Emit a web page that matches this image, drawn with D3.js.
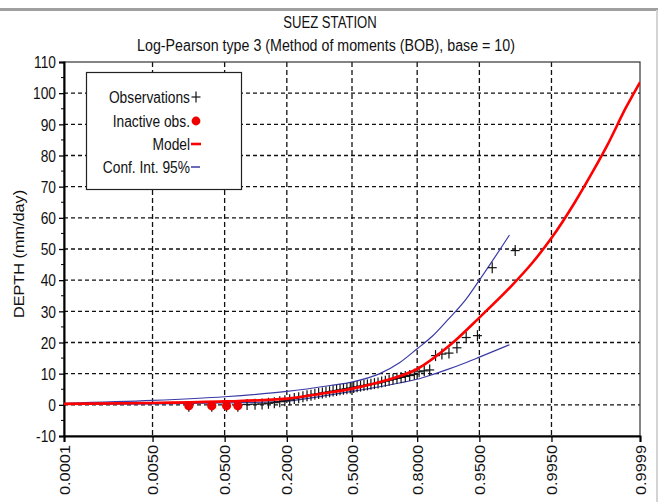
<!DOCTYPE html>
<html>
<head>
<meta charset="utf-8">
<script src="https://cdn.jsdelivr.net/npm/d3@7/dist/d3.min.js"></script>
<style>
  html, body { margin: 0; padding: 0; background: #fff; }
  svg { display: block; }
  text { font-family: "Liberation Sans", Arial, sans-serif; fill: #111; }
</style>
</head>
<body>
<svg id="chart" width="662" height="502"></svg>
<script>
// ---- data ---------------------------------------------------------------
const titleText = "SUEZ STATION";
const subtitleText = "Log-Pearson type 3 (Method of moments (BOB), base = 10)";
const yLabelText = "DEPTH (mm/day)";

const probTicks = [0.0001, 0.005, 0.05, 0.2, 0.5, 0.8, 0.95, 0.995, 0.9999];
const probTickLabels = ["0.0001", "0.0050", "0.0500", "0.2000", "0.5000", "0.8000", "0.9500", "0.9950", "0.9999"];
const depthTicks = [-10, 0, 10, 20, 30, 40, 50, 60, 70, 80, 90, 100, 110];

// zero-depth years flagged inactive (lowest ranks)
const inactiveObs = [0, 0, 0, 0];
// remaining annual maxima, ascending
const observations = [
  0.1, 0.2, 0.3, 0.5, 0.7, 1.0, 1.3, 1.6, 2.0, 2.3,
  2.6, 2.9, 3.1, 3.4, 3.6, 3.8, 4.0, 4.2, 4.4, 4.6,
  4.8, 5.0, 5.2, 5.4, 5.6, 5.8, 6.0, 6.2, 6.4, 6.6,
  6.8, 7.0, 7.3, 7.6, 7.9, 8.2, 8.5, 8.8, 9.1, 9.4,
  9.8, 10.6, 10.9, 11.2, 15.8, 16.3, 16.6, 18.3, 21.6, 22.2,
  44.0, 49.5
];

// fitted Log-Pearson III quantiles
const modelProb  = [0.0001, 0.005, 0.05, 0.2, 0.35, 0.5, 0.65, 0.8, 0.9, 0.95, 0.98, 0.99, 0.995, 0.998, 0.999, 0.9995, 0.9998, 0.9999];
const modelDepth = [0.3, 0.6, 1.1, 2.0, 3.6, 5.2, 7.5, 11.5, 19.5, 28, 38, 45.5, 53.5, 65, 74, 83, 95.5, 103.5];

// 95% confidence band
const ciProb  = [0.0001, 0.005, 0.05, 0.2, 0.39, 0.5, 0.64, 0.73, 0.8, 0.85, 0.89, 0.93, 0.95, 0.979];
const ciUpper = [0.5, 1.4, 2.6, 4.3, 6.2, 7.3, 10.0, 13.5, 18.0, 22.0, 27.0, 34.0, 40.0, 54.5];
const ciLower = [0.1, 0.3, 0.6, 1.2, 3.2, 4.3, 5.8, 7.0, 8.2, 9.7, 11.3, 13.6, 15.3, 19.3];

const legendItems = ["Observations", "Inactive obs.", "Model", "Conf. Int. 95%"];

// ---- helpers --------------------------------------------------------------
// inverse standard normal CDF (Acklam)
function normInv(p) {
  const a = [-3.969683028665376e+01, 2.209460984245205e+02, -2.759285104469687e+02, 1.383577518672690e+02, -3.066479806614716e+01, 2.506628277459239e+00];
  const b = [-5.447609879822406e+01, 1.615858368580409e+02, -1.556989798598866e+02, 6.680131188771972e+01, -1.328068155288572e+01];
  const c = [-7.784894002430293e-03, -3.223964580411365e-01, -2.400758277161838e+00, -2.549732539343734e+00, 4.374664141464968e+00, 2.938163982698783e+00];
  const d = [7.784695709041462e-03, 3.224671290700398e-01, 2.445134137142996e+00, 3.754408661907416e+00];
  const pl = 0.02425, ph = 1 - pl;
  let q, r;
  if (p < pl) {
    q = Math.sqrt(-2 * Math.log(p));
    return (((((c[0]*q+c[1])*q+c[2])*q+c[3])*q+c[4])*q+c[5]) / ((((d[0]*q+d[1])*q+d[2])*q+d[3])*q+1);
  } else if (p <= ph) {
    q = p - 0.5; r = q * q;
    return (((((a[0]*r+a[1])*r+a[2])*r+a[3])*r+a[4])*r+a[5])*q / (((((b[0]*r+b[1])*r+b[2])*r+b[3])*r+b[4])*r+1);
  } else {
    q = Math.sqrt(-2 * Math.log(1 - p));
    return -(((((c[0]*q+c[1])*q+c[2])*q+c[3])*q+c[4])*q+c[5]) / ((((d[0]*q+d[1])*q+d[2])*q+d[3])*q+1);
  }
}

// text in this chart is vertically stretched: fit rendered length by factor k
function fitText(sel, k) {
  sel.each(function () {
    const w = this.getComputedTextLength();
    this.setAttribute("textLength", (w * k).toFixed(1));
    this.setAttribute("lengthAdjust", "spacingAndGlyphs");
  });
}

// ---- layout -----------------------------------------------------------------
const svg = d3.select("#chart");
const plot = { left: 64, right: 640, top: 62, bottom: 436 };

// normal probability axis
const zScale = d3.scaleLinear()
  .domain([normInv(0.0001), normInv(0.9999)])
  .range([plot.left, plot.right]);
const x = p => zScale(normInv(p));
const y = d3.scaleLinear().domain([-10, 110]).range([plot.bottom, plot.top]);

// outer window frame
svg.append("rect").attr("x", 0).attr("y", 8).attr("width", 658).attr("height", 3).attr("fill", "#a0a0a0");
svg.append("rect").attr("x", 656).attr("y", 10).attr("width", 2).attr("height", 492).attr("fill", "#d4d4d4");

// titles
svg.append("text").attr("x", 330).attr("y", 28).attr("text-anchor", "middle")
  .attr("font-size", 16).text(titleText).call(fitText, 0.82);
svg.append("text").attr("x", 326).attr("y", 51).attr("text-anchor", "middle")
  .attr("font-size", 16).text(subtitleText).call(fitText, 0.89);

// grid
const grid = svg.append("g");
grid.selectAll("line.h").data(depthTicks.filter(d => d > -10 && d < 110)).join("line")
  .attr("x1", plot.left).attr("x2", plot.right)
  .attr("y1", d => y(d)).attr("y2", d => y(d))
  .attr("stroke", "#111").attr("stroke-width", 1.3).attr("stroke-dasharray", "4,3");
grid.selectAll("line.v").data(probTicks.slice(1, -1)).join("line")
  .attr("x1", d => x(d)).attr("x2", d => x(d))
  .attr("y1", plot.top).attr("y2", plot.bottom)
  .attr("stroke", "#111").attr("stroke-width", 1.3).attr("stroke-dasharray", "5,3");

// frame
svg.append("rect").attr("x", plot.left).attr("y", plot.top)
  .attr("width", plot.right - plot.left).attr("height", plot.bottom - plot.top)
  .attr("fill", "none").attr("stroke", "#333").attr("stroke-width", 1.2);

// y axis
const yAxis = d3.axisLeft(y).tickValues(depthTicks).tickSize(5).tickPadding(3).tickFormat(d => String(d));
const yG = svg.append("g").attr("transform", `translate(${plot.left},0)`).call(yAxis);
yG.select(".domain").attr("stroke", "#000").attr("stroke-width", 2);
yG.selectAll(".tick line").attr("stroke", "#000").attr("stroke-width", 1.3);
yG.selectAll(".tick text").attr("font-size", 16).attr("font-family", "Liberation Sans, Arial, sans-serif")
  .attr("fill", "#111").attr("dy", "0.36em").call(fitText, 0.86);
// minor ticks
const yMinor = d3.range(-5, 110, 10);
svg.append("g").selectAll("line").data(yMinor).join("line")
  .attr("x1", plot.left - 3).attr("x2", plot.left)
  .attr("y1", d => y(d)).attr("y2", d => y(d))
  .attr("stroke", "#000").attr("stroke-width", 1);

// x axis (normal probability)
const xAxis = d3.axisBottom(zScale).tickValues(probTicks.map(normInv)).tickSize(6)
  .tickFormat((d, i) => probTickLabels[i]);
const xG = svg.append("g").attr("transform", `translate(0,${plot.bottom})`).call(xAxis);
xG.select(".domain").attr("stroke", "#000").attr("stroke-width", 2);
xG.selectAll(".tick line").attr("stroke", "#000").attr("stroke-width", 1.3);
xG.selectAll(".tick text")
  .attr("font-size", 14).attr("font-family", "Liberation Sans, Arial, sans-serif").attr("fill", "#111")
  .attr("text-anchor", "end").attr("transform", "rotate(-90)")
  .attr("x", -9).attr("y", 0).attr("dy", "0.36em")
  .call(fitText, 1.17);

// y label
svg.append("text").attr("transform", "translate(24,254) rotate(-90)")
  .attr("text-anchor", "middle").attr("font-size", 14).text(yLabelText).call(fitText, 1.16);

// ---- series ------------------------------------------------------------------
const clip = svg.append("clipPath").attr("id", "plotclip").append("rect")
  .attr("x", plot.left).attr("y", plot.top).attr("width", plot.right - plot.left).attr("height", plot.bottom - plot.top);
const series = svg.append("g").attr("clip-path", "url(#plotclip)");

const line = d3.line().x(d => x(d[0])).y(d => y(d[1])).curve(d3.curveMonotoneX);
const ciColor = "#3a3aa6";

series.append("path").datum(d3.zip(ciProb, ciUpper)).attr("d", line)
  .attr("fill", "none").attr("stroke", ciColor).attr("stroke-width", 1.2);
series.append("path").datum(d3.zip(ciProb, ciLower)).attr("d", line)
  .attr("fill", "none").attr("stroke", ciColor).attr("stroke-width", 1.2);

// Weibull plotting positions for the full sample
const n = inactiveObs.length + observations.length;
const obsPts = observations.map((v, i) => [(inactiveObs.length + i + 1) / (n + 1), v]);
const inactivePts = inactiveObs.map((v, i) => [(i + 1) / (n + 1), v]);

function plus(g, cx, cy) {
  g.append("line").attr("x1", cx - 4.5).attr("x2", cx + 4.5).attr("y1", cy).attr("y2", cy)
    .attr("stroke", "#111").attr("stroke-width", 1.2);
  g.append("line").attr("x1", cx).attr("x2", cx).attr("y1", cy - 5.5).attr("y2", cy + 5.5)
    .attr("stroke", "#111").attr("stroke-width", 1.2);
}
const obsG = series.append("g");
obsPts.forEach(d => plus(obsG, x(d[0]), y(d[1])));

series.append("path").datum(d3.zip(modelProb, modelDepth)).attr("d", line)
  .attr("fill", "none").attr("stroke", "#ff0000").attr("stroke-width", 2.6);

const inG = series.append("g");
inactivePts.forEach(d => {
  inG.append("line").attr("x1", x(d[0])).attr("x2", x(d[0])).attr("y1", y(d[1])).attr("y2", y(d[1]) + 7)
    .attr("stroke", "#111").attr("stroke-width", 1.2);
  inG.append("circle").attr("cx", x(d[0])).attr("cy", y(d[1]) + 1).attr("r", 4.6).attr("fill", "#ee0000");
});

// ---- legend ---------------------------------------------------------------
const lg = svg.append("g");
lg.append("rect").attr("x", 86.5).attr("y", 72.5).attr("width", 155).attr("height", 117)
  .attr("fill", "#fff").attr("stroke", "#222").attr("stroke-width", 1.2);
const legendY = [97, 121, 144, 167];
lg.selectAll("text").data(legendItems).join("text")
  .attr("x", 190).attr("y", (d, i) => legendY[i]).attr("dy", "0.36em")
  .attr("text-anchor", "end").attr("font-size", 16).text(d => d).call(fitText, 0.86);
plus(lg, 196, legendY[0]);
lg.append("circle").attr("cx", 196).attr("cy", legendY[1]).attr("r", 4.4).attr("fill", "#ee0000");
lg.append("line").attr("x1", 191).attr("x2", 201).attr("y1", legendY[2]).attr("y2", legendY[2])
  .attr("stroke", "#ff0000").attr("stroke-width", 2.6);
lg.append("line").attr("x1", 191).attr("x2", 200).attr("y1", legendY[3]).attr("y2", legendY[3])
  .attr("stroke", ciColor).attr("stroke-width", 1.5);
</script>
</body>
</html>
